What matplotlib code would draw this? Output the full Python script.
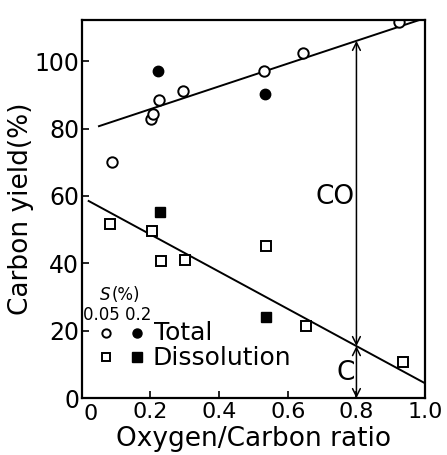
import numpy as np
import matplotlib
matplotlib.use("Agg")
import matplotlib.pyplot as plt

plt.rcParams['font.family'] = ['DejaVu Sans']

# Data
total_low_x = [0.087, 0.203, 0.208, 0.225, 0.295, 0.532, 0.645, 0.924]
total_low_y = [70.1, 82.7, 84.2, 88.4, 91.2, 97.0, 102.3, 111.6]
total_high_x = [0.221, 0.534]
total_high_y = [97.0, 90.1]
diss_low_x = [0.082, 0.204, 0.232, 0.300, 0.538, 0.652, 0.937]
diss_low_y = [51.8, 49.6, 40.7, 41.0, 45.2, 21.5, 10.6]
diss_high_x = [0.227, 0.538]
diss_high_y = [55.1, 24.1]
total_line_x = [0.05, 0.995]
total_line_y = [80.7, 112.6]
diss_line_x = [0.02, 1.0]
diss_line_y = [58.5, 4.4]
arrow_x = 0.8
xticks = [0.2, 0.4, 0.6, 0.8, 1.0]
xticklabels = ['0.2', '0.4', '0.6', '0.8', '1.0']
yticks = [0, 20, 40, 60, 80, 100]
yticklabels = ['0', '20', '40', '60', '80', '100']

fig = plt.figure(figsize=(4.47, 4.55), dpi=100)
ax = fig.add_axes([0.183, 0.125, 0.768, 0.831])
ax.set_xlim(0, 1.0)
ax.set_ylim(0, 112.2)
for s in ax.spines.values():
    s.set_linewidth(1.6)

lw = 1.4
ax.plot(total_line_x, total_line_y, color='black', lw=lw)
ax.plot(diss_line_x, diss_line_y, color='black', lw=lw)

ms = 7.5
ax.plot(total_low_x, total_low_y, 'o', mfc='white', mec='black', mew=1.4, ms=ms, ls='none')
ax.plot(total_high_x, total_high_y, 'o', mfc='black', mec='black', ms=ms, ls='none')
ax.plot(diss_low_x, diss_low_y, 's', mfc='white', mec='black', mew=1.4, ms=ms, ls='none')
ax.plot(diss_high_x, diss_high_y, 's', mfc='black', mec='black', ms=ms, ls='none')

# arrows
y_top = np.interp(arrow_x, total_line_x, total_line_y)
y_mid = np.interp(arrow_x, diss_line_x, diss_line_y)
ap = dict(arrowstyle='<->', color='black', lw=1.1, shrinkA=0, shrinkB=0,
          mutation_scale=14)
ax.annotate('', xy=(arrow_x, y_top), xytext=(arrow_x, y_mid), arrowprops=ap)
ax.annotate('', xy=(arrow_x, y_mid), xytext=(arrow_x, 0), arrowprops=ap)
ax.text(0.795, 59.7, 'CO', fontsize=19, ha='right', va='center')
ax.text(0.795, 7.5, 'C', fontsize=19, ha='right', va='center')

# legend
ax.text(0.052, 0.272, 'S', style='italic', fontsize=12, transform=ax.transAxes, va='center')
ax.text(0.088, 0.272, '(%)', fontsize=12, transform=ax.transAxes, va='center')
ax.text(0.003, 0.22, '0.05 0.2', fontsize=12, transform=ax.transAxes, va='center')
ax.plot([0.07], [0.172], 'o', mfc='white', mec='black', mew=1.4, ms=6, transform=ax.transAxes)
ax.plot([0.162], [0.172], 'o', mfc='black', mec='black', ms=6.5, transform=ax.transAxes)
ax.plot([0.07], [0.108], 's', mfc='white', mec='black', mew=1.4, ms=6, transform=ax.transAxes)
ax.plot([0.162], [0.108], 's', mfc='black', mec='black', ms=6.5, transform=ax.transAxes)
ax.text(0.21, 0.172, 'Total', fontsize=18, transform=ax.transAxes, va='center')
ax.text(0.205, 0.105, 'Dissolution', fontsize=18, transform=ax.transAxes, va='center')

ax.set_xticks(xticks)
ax.set_xticklabels(xticklabels, fontsize=16)
ax.set_yticks(yticks)
ax.set_yticklabels(yticklabels, fontsize=17)
ax.tick_params(direction='in', length=5, width=1.2, pad=2)
ax.tick_params(axis='x', pad=3)
ax.text(0.005, -0.015, '0', fontsize=16, transform=ax.transAxes, ha='left', va='top')
ax.set_xlabel('Oxygen/Carbon ratio', fontsize=19, labelpad=3)
ax.set_ylabel('Carbon yield(%)', fontsize=19, labelpad=0)

fig.savefig('out.png', dpi=100)
